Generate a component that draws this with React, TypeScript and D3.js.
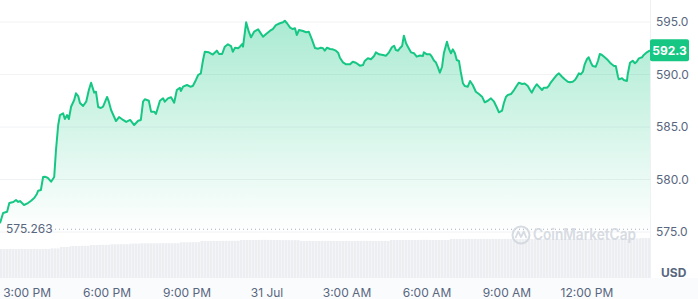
import React from "react";
import * as d3 from "d3";

// minutes after 30 Jul 3:00 PM
const minutes = [
  -61, -54, -45, -40, -31, -25, -20, -16, -7, 2,
  9, 16, 22, 25, 31, 36, 40, 47, 54, 61,
  65, 70, 74, 81, 85, 90, 94, 99, 106, 110,
  115, 119, 126, 133, 139, 144, 151, 155, 160, 166,
  171, 180, 184, 189, 200, 207, 216, 223, 232, 241,
  250, 256, 261, 265, 274, 279, 286, 290, 295, 299,
  306, 310, 317, 324, 331, 337, 344, 346, 351, 360,
  367, 373, 380, 385, 391, 396, 400, 409, 418, 427,
  432, 439, 445, 452, 459, 463, 468, 475, 479, 484,
  486, 493, 499, 504, 511, 520, 526, 531, 538, 547,
  553, 560, 569, 576, 580, 585, 592, 598, 603, 607,
  612, 621, 628, 634, 641, 648, 655, 661, 666, 670,
  675, 682, 688, 695, 700, 704, 711, 718, 727, 733,
  740, 749, 756, 760, 767, 774, 781, 785, 792, 801,
  808, 814, 821, 826, 830, 835, 839, 844, 848, 853,
  857, 864, 871, 877, 884, 891, 893, 900, 907, 911,
  916, 920, 925, 929, 934, 938, 945, 949, 954, 958,
  963, 967, 972, 976, 981, 985, 992, 997, 1003, 1010,
  1017, 1024, 1030, 1037, 1044, 1051, 1057, 1062, 1069, 1073,
  1078, 1082, 1089, 1096, 1102, 1107, 1114, 1120, 1127, 1132,
  1136, 1141, 1147, 1152, 1159, 1163, 1170, 1174, 1179, 1186,
  1192, 1197, 1204, 1210, 1217, 1222, 1228, 1233, 1237, 1242,
  1246, 1251, 1255, 1260, 1264, 1269, 1273, 1280, 1285, 1289,
  1294, 1300, 1307, 1312, 1316, 1321, 1325, 1330, 1332, 1339,
  1343, 1350, 1352, 1357, 1363, 1368, 1372, 1377, 1384, 1388,
  1395, 1402,
];

const prices = [
  575.83, 576.81, 576.93, 577.76, 577.86, 578.05, 577.86, 577.95, 577.57, 577.76,
  577.98, 578.24, 578.62, 578.93, 579.0, 580.24, 580.27, 580.14, 579.79, 580.24,
  582.81, 585.19, 586.14, 586.3, 585.76, 586.14, 585.76, 586.93, 587.57, 588.21,
  587.95, 587.29, 587.0, 587.41, 588.52, 589.22, 588.27, 588.36, 586.9, 586.81,
  586.93, 587.86, 587.41, 586.62, 585.57, 585.95, 585.67, 585.48, 585.67, 585.19,
  585.6, 585.67, 587.41, 587.64, 587.5, 586.46, 586.46, 586.24, 586.93, 587.5,
  587.73, 587.41, 587.73, 587.83, 587.31, 588.52, 588.74, 588.43, 588.84, 589.0,
  588.84, 588.9, 589.48, 589.95, 590.11, 591.38, 592.17, 592.11, 591.9, 592.27,
  591.95, 591.95, 592.65, 592.88, 592.71, 592.17, 592.55, 592.5, 592.65, 592.9,
  592.65, 594.97, 594.08, 593.54, 594.08, 594.3, 593.92, 593.6, 593.86, 594.17,
  594.33, 594.71, 594.88, 594.97, 595.12, 594.88, 594.46, 594.33, 594.4, 593.76,
  594.24, 594.14, 594.02, 594.08, 593.35, 592.52, 592.46, 592.55, 592.5, 592.27,
  592.55, 592.43, 592.4, 592.27, 592.08, 591.6, 591.16, 590.97, 590.97, 591.22,
  591.12, 590.84, 590.9, 591.29, 591.54, 591.45, 591.76, 592.11, 591.92, 591.86,
  591.79, 592.08, 592.59, 592.74, 592.33, 592.27, 592.5, 592.71, 593.7, 592.97,
  592.65, 592.11, 592.02, 591.7, 591.81, 591.76, 592.11, 591.92, 591.92, 591.7,
  591.31, 591.16, 590.65, 590.17, 590.74, 592.02, 593.12, 592.5, 592.02, 592.4,
  592.02, 591.38, 591.29, 590.27, 589.16, 588.9, 588.84, 589.38, 589.0, 588.36,
  588.14, 587.89, 587.35, 587.5, 587.73, 587.41, 586.88, 586.4, 586.55, 587.26,
  587.89, 588.05, 588.14, 588.52, 588.93, 589.22, 589.1, 589.14, 588.9, 588.52,
  588.27, 588.69, 589.07, 588.84, 588.52, 588.74, 588.74, 588.9, 589.26, 589.64,
  589.95, 590.11, 589.79, 589.54, 589.31, 589.26, 589.31, 589.48, 589.73, 590.11,
  590.02, 590.27, 590.97, 591.45, 591.64, 591.12, 590.81, 590.74, 591.31, 591.95,
  591.86, 591.64, 591.38, 591.12, 590.97, 590.81, 590.81, 589.79, 589.54, 589.64,
  589.48, 589.38, 590.05, 591.12, 591.31, 591.07, 591.22, 591.54, 591.64, 591.86,
  592.11, 592.3,
];

const volumes = [
  1450, 1450, 1450, 1450, 1450, 1480, 1550, 1600, 1610, 1650,
  1660, 1685, 1690, 1720, 1735, 1735, 1740, 1740, 1785, 1790,
  1850, 1850, 1855, 1860, 1900, 1900, 1905, 1900, 1895, 1890,
  1850, 1850, 1855, 1850, 1850, 1850, 1855, 1850, 1850, 1900,
  1900, 1900, 1905, 1900, 1900, 1950, 1950, 1950, 1950, 1950,
  1950, 1950, 1955, 1950, 1950, 1950, 1950, 1950, 1955, 1950,
  1950, 1950, 1950, 1980, 2000,
];

const yTicks = [575, 580, 585, 590, 595];
const xTickHours = [0, 3, 6, 9, 12, 15, 18, 21];
const xTickLabels = ["3:00 PM", "6:00 PM", "9:00 PM", "31 Jul", "3:00 AM", "6:00 AM", "9:00 AM", "12:00 PM"];
const openPrice = 575.263;
const currency = "USD";
const brand = "CoinMarketCap";

const GREEN = "#16c784";
const TEXT = "#58667e";
const FONT = "Inter, 'Noto Sans', sans-serif";

export default function App() {
  const W = 698;
  const H = 299;
  const plotRight = 650;
  const base = new Date(2024, 6, 30, 15, 0).getTime();
  const times = minutes.map((m) => new Date(base + m * 60000));
  const data = times.map((t, i) => ({ t, v: prices[i] }));

  const x = d3.scaleTime().domain([times[0], times[times.length - 1]]).range([0, plotRight]);
  const y = d3.scaleLinear().domain([575, 595]).range([232, 22]);
  const xb = d3.scaleBand<number>().domain(volumes.map((_, i) => i)).range([0, plotRight]).paddingInner(0);
  const yv = d3.scaleLinear().domain([0, 2000]).range([278, 238]);

  const line = d3.line<{ t: Date; v: number }>().x((d) => x(d.t)).y((d) => y(d.v));
  const area = d3
    .area<{ t: Date; v: number }>()
    .x((d) => x(d.t))
    .y0(y(575))
    .y1((d) => y(d.v));

  const last = prices[prices.length - 1];
  const fmt = d3.format(".1f");

  return (
    <svg width={W} height={H} style={{ position: "absolute", left: 0, top: 0, fontFamily: FONT }}>
      <defs>
        <linearGradient id="ag" gradientUnits="userSpaceOnUse" x1="0" y1={y(595)} x2="0" y2={y(575)}>
          <stop offset="0" stopColor={GREEN} stopOpacity={0.36} />
          <stop offset="1" stopColor={GREEN} stopOpacity={0} />
        </linearGradient>
        <pattern id="vp" width="3" height="10" patternUnits="userSpaceOnUse">
          <rect width="3" height="10" fill="#eceef2" />
          <rect x="2.3" width="0.7" height="10" fill="#f7f8fa" />
        </pattern>
      </defs>
      <rect width={W} height={H} fill="#fff" />
      <rect x={0} y={278} width={W} height={21} fill="#fafbfd" />

      {/* volume bars */}
      {volumes.map((v, i) => (
        <rect key={i} x={xb(i)} y={yv(v)} width={xb.bandwidth()} height={yv(0) - yv(v)} fill="url(#vp)" />
      ))}

      {/* grid */}
      {yTicks.map((t) => (
        <line key={t} x1={0} x2={plotRight} y1={y(t)} y2={y(t)} stroke="#f1f2f4" strokeWidth={1} />
      ))}

      <path d={area(data) || ""} fill="url(#ag)" />
      <path d={line(data) || ""} fill="none" stroke={GREEN} strokeWidth={2} strokeLinejoin="round" />

      {/* open price dotted line */}
      <line x1={47} x2={plotRight} y1={y(openPrice)} y2={y(openPrice)} stroke="#a6b0c3" strokeWidth={1} strokeDasharray="1 3" />
      <text x={6} y={y(openPrice)} dy="0.35em" fontSize={12} fill={TEXT}>
        {d3.format(".3f")(openPrice)}
      </text>

      {/* watermark */}
      <g opacity={0.9}>
        <circle cx={521} cy={235} r={8.5} fill="none" stroke="#d3d8e0" strokeWidth={2} />
        <path d="M515.5,238 L518.2,231.5 L521,237 L523.8,231.5 L526.5,238" fill="none" stroke="#d3d8e0" strokeWidth={1.8} strokeLinejoin="round" />
        <text x={533} y={235} dy="0.35em" fontSize={15.5} fontWeight={600} fill="#d3d8e0" textLength={103} lengthAdjust="spacingAndGlyphs">
          {brand}
        </text>
      </g>

      {/* right axis border */}
      <line x1={plotRight + 0.5} x2={plotRight + 0.5} y1={0} y2={278} stroke="#eff2f5" />

      {yTicks.map((t) => (
        <text key={t} x={656} y={y(t)} dy="0.35em" fontSize={12} fill={TEXT}>
          {fmt(t)}
        </text>
      ))}

      {/* price badge */}
      <rect x={plotRight} y={y(last) - 11} width={39} height={22} rx={2} fill={GREEN} />
      <text x={plotRight + 19.5} y={y(last)} dy="0.35em" fontSize={12} fontWeight={700} fill="#fff" textAnchor="middle">
        {fmt(last)}
      </text>

      <text x={661} y={273} dy="0.35em" fontSize={12} fontWeight={700} fill={TEXT}>
        {currency}
      </text>

      {xTickHours.map((h, i) => (
        <text key={h} x={x(new Date(base + h * 3600000))} y={293} dy="0.35em" fontSize={12} fill={TEXT} textAnchor="middle">
          {xTickLabels[i]}
        </text>
      ))}
    </svg>
  );
}
